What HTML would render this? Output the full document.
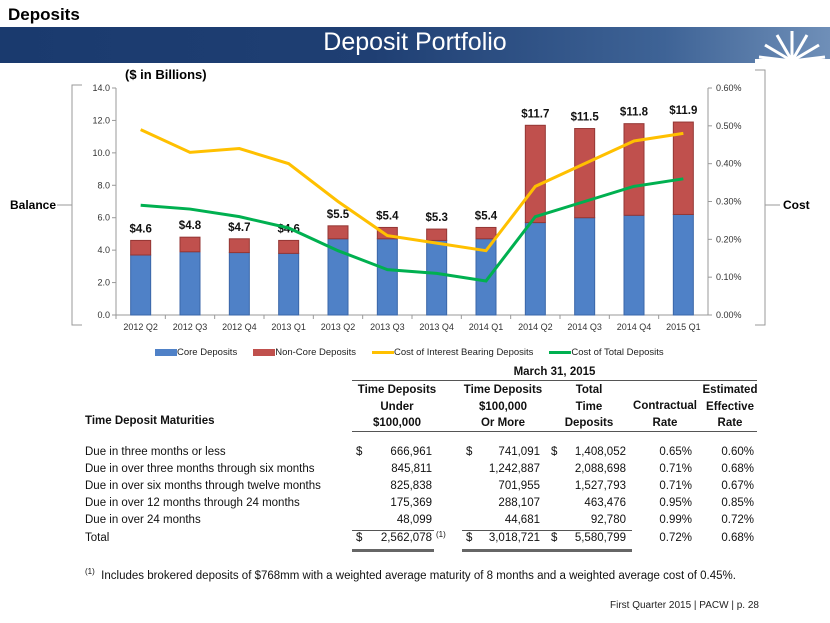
<!DOCTYPE html>
<html><head><meta charset="utf-8"><style>
body{margin:0;width:830px;height:623px;background:#fff;position:relative;overflow:hidden;font-family:"Liberation Sans",sans-serif}
.a{position:absolute;white-space:nowrap}
.t{font-family:"Liberation Sans",sans-serif;font-size:11.5px;color:#111}
.r{text-align:right}
.c{text-align:center}
.b{font-weight:bold}
.ln{position:absolute;height:1px;background:#555}
</style></head><body>
<div class="a b" style="left:8px;top:5px;font-size:17px">Deposits</div>
<div class="a" style="left:0;top:27px;width:830px;height:36px;background:linear-gradient(90deg,#1a3a6e 0%,#1f3f73 45%,#3e6396 80%,#6f8fb8 100%)"></div>
<div class="a c" style="left:0;top:28px;width:830px;font-size:25px;color:#fff">Deposit Portfolio</div>
<svg class="a" style="left:755px;top:27px" width="75" height="36">
<g stroke="#fff" stroke-width="3"><line x1="37" y1="34" x2="37" y2="4"/><line x1="37" y1="34" x2="22" y2="8"/><line x1="37" y1="34" x2="52" y2="8"/><line x1="37" y1="34" x2="10" y2="18"/><line x1="37" y1="34" x2="64" y2="18"/><line x1="37" y1="34" x2="4" y2="30"/><line x1="37" y1="34" x2="70" y2="30"/></g>
<rect x="0" y="32" width="75" height="4" fill="#fff"/></svg>
<div class="a b" style="left:125px;top:67px;font-size:13px">($ in Billions)</div>
<svg class="a" style="left:0;top:0" width="830" height="360" id="chart">
<g fill="none" stroke="#999" stroke-width="1"><path d="M82,85 H72 V325 H82"/><path d="M755,70 H765 V325 H755"/><line x1="57" y1="205" x2="72" y2="205"/><line x1="765" y1="205" x2="780" y2="205"/></g>
<text x="10" y="209" font-size="12" font-weight="bold" font-family="Liberation Sans">Balance</text>
<text x="783" y="209" font-size="12" font-weight="bold" font-family="Liberation Sans">Cost</text>
</svg>
<div class="a" style="left:155px;top:347px;font-size:9.5px;color:#222" id="legend"></div>

<div class="a b t c" style="left:352px;top:366px;width:405px">March 31, 2015</div>
<div class="ln" style="left:352px;top:380px;width:405px"></div>
<div class="a b t c" style="left:352px;top:382px;width:90px;line-height:16.5px">Time Deposits<br>Under<br>$100,000</div>
<div class="a b t c" style="left:458px;top:382px;width:90px;line-height:16.5px">Time Deposits<br>$100,000<br>Or More</div>
<div class="a b t c" style="left:555px;top:382px;width:68px;line-height:16.5px">Total<br>Time<br>Deposits</div>
<div class="a b t c" style="left:630px;top:415px;width:70px;line-height:16.5px;top:398px">Contractual<br>Rate</div>
<div class="a b t c" style="left:700px;top:382px;width:60px;line-height:16.5px">Estimated<br>Effective<br>Rate</div>
<div class="a b t" style="left:85px;top:415px">Time Deposit Maturities</div>
<div class="ln" style="left:352px;top:431px;width:405px"></div>
<div id="tbl"></div>
<div class="ln" style="left:352px;top:530px;width:82px"></div>
<div class="ln" style="left:462px;top:530px;width:170px"></div>
<div class="ln" style="left:352px;top:549px;width:82px;height:3px;background:#666"></div>
<div class="ln" style="left:462px;top:549px;width:170px;height:3px;background:#666"></div>
<div class="a t" style="left:436px;top:530px;font-size:8px">(1)</div>
<div class="a t" style="left:85px;top:567px"><sup style="font-size:8px">(1)</sup>&nbsp;&nbsp;Includes brokered deposits of $768mm with a weighted average maturity of 8 months and a weighted average cost of 0.45%.</div>
<div class="a" style="left:610px;top:600px;font-size:10px;color:#222">First Quarter 2015 | PACW | p. 28</div>
<script>
const categories=["2012 Q2","2012 Q3","2012 Q4","2013 Q1","2013 Q2","2013 Q3","2013 Q4","2014 Q1","2014 Q2","2014 Q3","2014 Q4","2015 Q1"];
const coreDeposits=[3.7,3.9,3.85,3.8,4.7,4.7,4.6,4.7,5.7,6.0,6.15,6.2];
const totalDeposits=[4.6,4.8,4.7,4.6,5.5,5.4,5.3,5.4,11.7,11.5,11.8,11.9];
const totalLabels=["$4.6","$4.8","$4.7","$4.6","$5.5","$5.4","$5.3","$5.4","$11.7","$11.5","$11.8","$11.9"];
const costInterestBearing=[0.49,0.43,0.44,0.40,0.30,0.21,0.19,0.17,0.34,0.40,0.46,0.48];
const costTotal=[0.29,0.28,0.26,0.23,0.17,0.12,0.11,0.09,0.26,0.30,0.34,0.36];
const leftTicks=[0,2,4,6,8,10,12,14];
const rightTicks=[0,0.1,0.2,0.3,0.4,0.5,0.6];
const NS="http://www.w3.org/2000/svg";
const svg=document.getElementById('chart');
const X0=116,X1=708,Y0=315,Y1=88;
const step=(X1-X0)/categories.length;
const xc=i=>X0+step*(i+0.5);
const yL=v=>Y0-(v/14)*(Y0-Y1);
const yR=v=>Y0-(v/0.6)*(Y0-Y1);
function mk(tag,at,txt){const e=document.createElementNS(NS,tag);for(const k in at)e.setAttribute(k,at[k]);if(txt!=null)e.textContent=txt;svg.appendChild(e);return e;}
mk('line',{x1:X0,y1:Y1,x2:X0,y2:Y0,stroke:'#999'});
mk('line',{x1:X1,y1:Y1,x2:X1,y2:Y0,stroke:'#999'});
mk('line',{x1:X0,y1:Y0,x2:X1,y2:Y0,stroke:'#999'});
leftTicks.forEach(v=>{mk('line',{x1:X0-4,y1:yL(v),x2:X0,y2:yL(v),stroke:'#999'});
const t=mk('text',{x:X0-6,y:yL(v)+3,'text-anchor':'end','font-size':9,fill:'#333','font-family':'Liberation Sans'},v.toFixed(1));
});
rightTicks.forEach(v=>{mk('line',{x1:X1,y1:yR(v),x2:X1+4,y2:yR(v),stroke:'#999'});
const t=mk('text',{x:X1+8,y:yR(v)+3,'font-size':9,fill:'#333','font-family':'Liberation Sans'},v.toFixed(2)+'%');
});
categories.forEach((c,i)=>{
mk('line',{x1:X0+step*i,y1:Y0,x2:X0+step*i,y2:Y0+4,stroke:'#999'});
const t=mk('text',{x:xc(i),y:Y0+15,'text-anchor':'middle','font-size':9,fill:'#333','font-family':'Liberation Sans'},c);

const bw=20;
const r1=mk('rect',{x:xc(i)-bw/2,y:yL(coreDeposits[i]),width:bw,height:yL(0)-yL(coreDeposits[i]),fill:'#4f81c7',stroke:'#3a66a8'});

const r2=mk('rect',{x:xc(i)-bw/2,y:yL(totalDeposits[i]),width:bw,height:yL(coreDeposits[i])-yL(totalDeposits[i]),fill:'#c0504d',stroke:'#943634'});

const lb=mk('text',{x:xc(i),y:yL(totalDeposits[i])-8,'text-anchor':'middle','font-size':11.5,'font-weight':'bold',fill:'#111','font-family':'Liberation Sans'},totalLabels[i]);

});
const p1=mk('polyline',{points:costInterestBearing.map((v,i)=>xc(i)+','+yR(v)).join(' '),fill:'none',stroke:'#ffc000','stroke-width':3});

const p2=mk('polyline',{points:costTotal.map((v,i)=>xc(i)+','+yR(v)).join(' '),fill:'none',stroke:'#00b050','stroke-width':3});

const lg=document.getElementById('legend');
const legendItems=[["Core Deposits","#4f81c7",0],["Non-Core Deposits","#c0504d",0],["Cost of Interest Bearing Deposits","#ffc000",1],["Cost of Total Deposits","#00b050",1]];
legendItems.forEach(([n,c,ln])=>{const s=document.createElement('span');


s.style.marginRight='16px';
s.innerHTML=(ln?'<span style="display:inline-block;width:22px;height:3px;background:'+c+';vertical-align:middle"></span>':'<span style="display:inline-block;width:22px;height:7px;background:'+c+';vertical-align:middle"></span>')+n;lg.appendChild(s);});
const rows=[["Due in three months or less","666,961","741,091","1,408,052","0.65%","0.60%",1],
["Due in over three months through six months","845,811","1,242,887","2,088,698","0.71%","0.68%",0],
["Due in over six months through twelve months","825,838","701,955","1,527,793","0.71%","0.67%",0],
["Due in over 12 months through 24 months","175,369","288,107","463,476","0.95%","0.85%",0],
["Due in over 24 months","48,099","44,681","92,780","0.99%","0.72%",0],
["Total","2,562,078","3,018,721","5,580,799","0.72%","0.68%",1]];
const tys=[446,463,480,497,514,532];
const tb=document.getElementById('tbl');
rows.forEach((r,i)=>{const y=tys[i];
const h=[`<div class="a t" style="left:85px;top:${y}px">${r[0]}</div>`,
`<div class="a t r" style="left:352px;top:${y}px;width:80px">${r[1]}</div>`,
`<div class="a t r" style="left:462px;top:${y}px;width:78px">${r[2]}</div>`,
`<div class="a t r" style="left:552px;top:${y}px;width:74px">${r[3]}</div>`,
`<div class="a t r" style="left:640px;top:${y}px;width:52px">${r[4]}</div>`,
`<div class="a t r" style="left:700px;top:${y}px;width:54px">${r[5]}</div>`];
if(r[6])h.push(`<div class="a t" style="left:356px;top:${y}px">$</div><div class="a t" style="left:466px;top:${y}px">$</div><div class="a t" style="left:551px;top:${y}px">$</div>`);
const d=document.createElement('div');


d.innerHTML=h.join('');tb.appendChild(d);});
</script>
</body></html>
